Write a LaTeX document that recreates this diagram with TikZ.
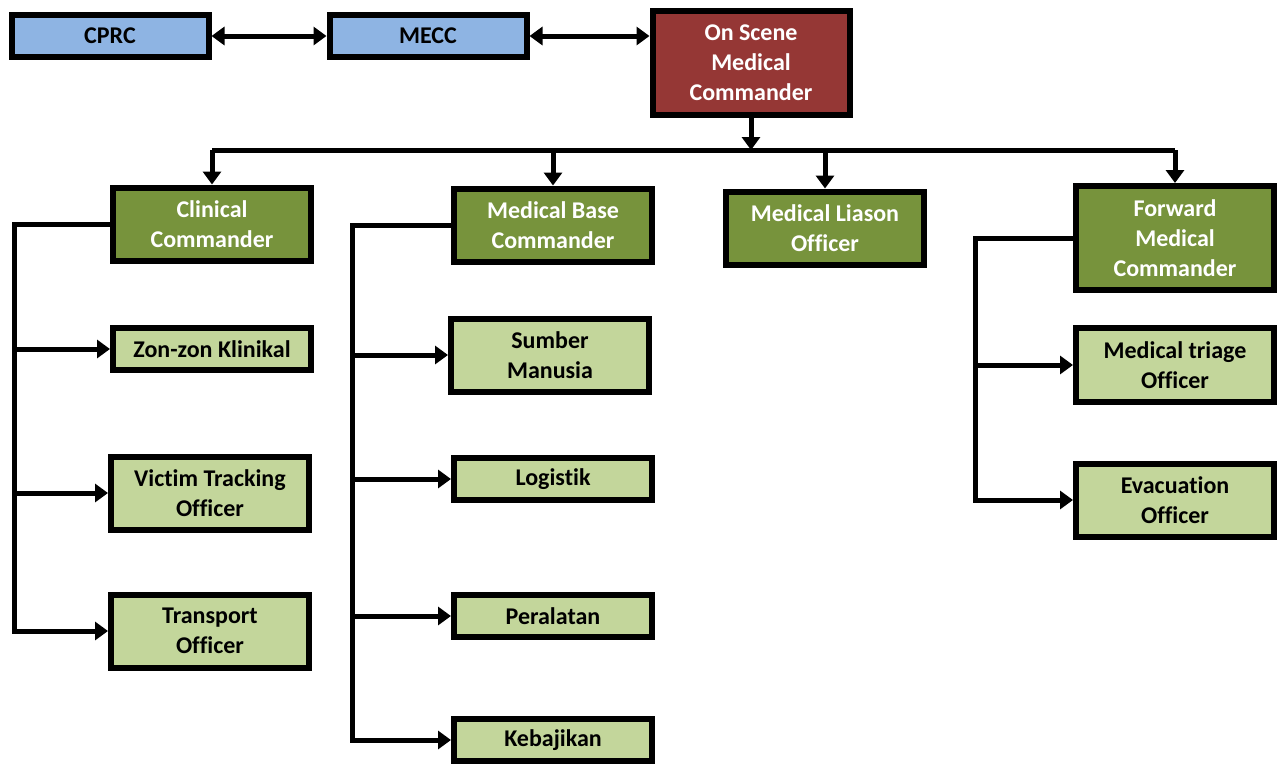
\documentclass[tikz,border=0pt]{standalone}
\usepackage{fontspec}
\setmainfont{Carlito}[Ligatures=NoCommon]
\usetikzlibrary{arrows.meta}
\definecolor{topblue}{RGB}{142,180,227}
\definecolor{headred}{RGB}{149,55,53}
\definecolor{cmdgreen}{RGB}{119,147,60}
\definecolor{subgreen}{RGB}{195,214,155}

\begin{document}
\begin{tikzpicture}[x=1pt,y=-1pt]
\tikzstyle{box}=[rectangle, draw, line width=6pt, align=center,
                 font=\bfseries\fontsize{24}{30}\selectfont, inner sep=2pt]
\tikzstyle{top}=[box, fill=topblue, minimum width=197pt, minimum height=42pt]
\tikzstyle{head}=[box, fill=headred, text=white, minimum width=197pt, minimum height=104pt]
\tikzstyle{cmd}=[box, fill=cmdgreen, text=white, minimum width=198pt, minimum height=73pt]
\tikzstyle{sub}=[box, fill=subgreen, minimum width=198pt, minimum height=42pt]
\tikzstyle{arr}=[line width=5pt, -{Triangle[length=13pt,width=18pt]}]
\tikzstyle{arr2}=[line width=5pt, {Triangle[length=13pt,width=18pt]}-{Triangle[length=13pt,width=18pt]}]
\useasboundingbox (0,0) rectangle (1282,764);

	\node[top] (cprc) at (110,36){CPRC};
	\node[top] (mecc) at (428,36){MECC};
	\node[head] (osmc) at (751,63){On Scene\\Medical\\Commander};

	\node[cmd] (cc) at (212,224){Clinical\\Commander};
	\node[cmd] (mbc) at (553,225){Medical Base\\Commander};
	\node[cmd] (mlo) at (825,228){Medical Liason\\Officer};
	\node[cmd, minimum height=104pt] (fmc) at (1175,238){Forward\\Medical\\Commander};

	\node[sub] (zk) at (212,349){Zon-zon Klinikal};
	\node[sub, minimum height=73pt] (vto) at (210,493){Victim Tracking\\Officer};
	\node[sub, minimum height=73pt] (to) at (210,631){Transport\\Officer};

	\node[sub, minimum height=73pt] (sm) at (550,355){Sumber\\Manusia};
	\node[sub] (lg) at (553,479){Logistik};
	\node[sub] (pr) at (553,616){Peralatan};
	\node[sub] (kb) at (553,740){Kebajikan};

	\node[sub, minimum height=74pt] (mto) at (1175,365){Medical triage\\Officer};
	\node[sub, minimum height=73pt] (eo) at (1175,500){Evacuation\\Officer};

	\coordinate (bus) at (0,150);
	\coordinate (cspine) at (14,0);
	\coordinate (mspine) at (352,0);
	\coordinate (fspine) at (975,0);

% top row
\draw[arr2] (cprc.east) -- (mecc.west);
\draw[arr2] (mecc.east) -- (mecc.east -| osmc.west);

% bus
\draw[arr] (osmc.south) -- (osmc.south |- bus);
\draw[line width=5pt] (cc.north |- bus) -- (fmc.north |- bus);
\foreach \n in {cc,mbc,mlo,fmc}{\draw[arr] (\n.north |- bus) -- (\n.north);}

% spines
\draw[arr] (cc.west) -| (cspine |- to.west) -- (to.west);
\foreach \n in {zk,vto}{\draw[arr] (cspine |- \n.west) -- (\n.west);}
\draw[arr] (mbc.west) -| (mspine |- kb.west) -- (kb.west);
\foreach \n in {sm,lg,pr}{\draw[arr] (mspine |- \n.west) -- (\n.west);}
\draw[arr] (fmc.west) -| (fspine |- eo.west) -- (eo.west);
\draw[arr] (fspine |- mto.west) -- (mto.west);

\end{tikzpicture}
\end{document}
